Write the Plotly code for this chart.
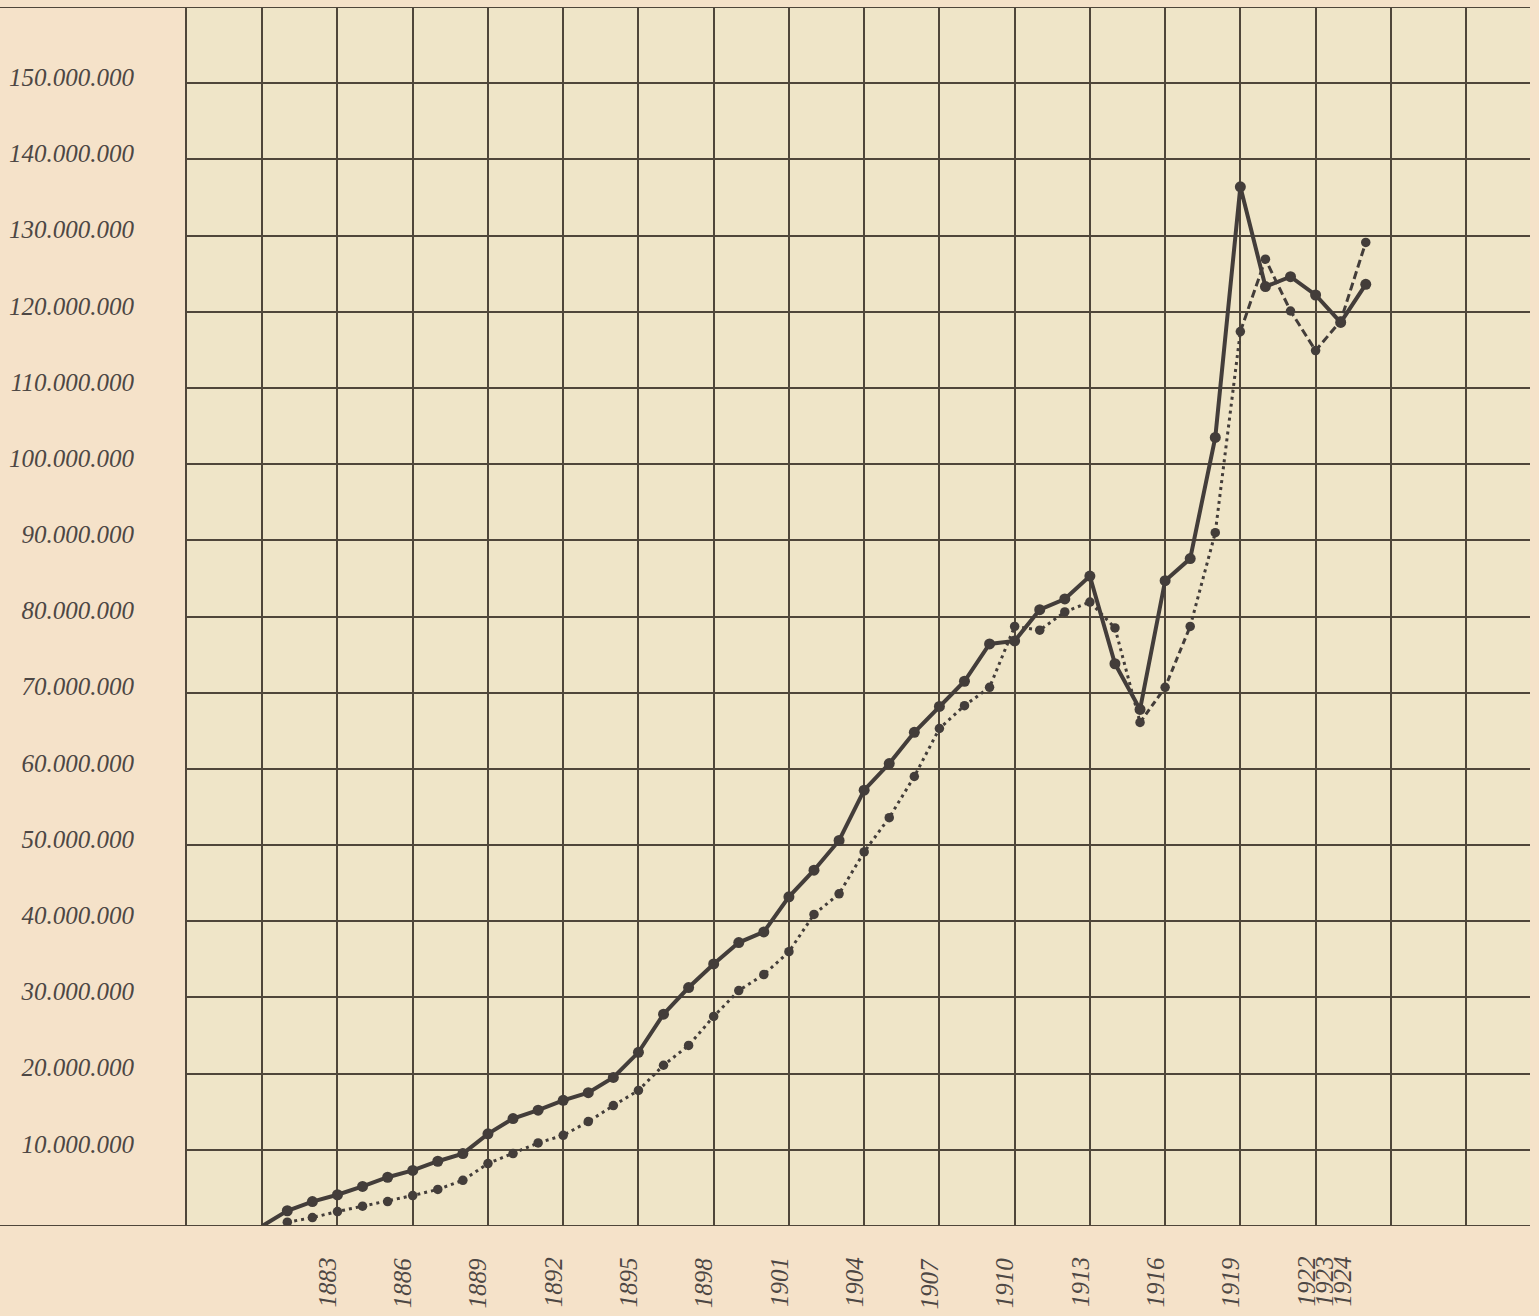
import plotly.graph_objects as go

# ---------------- data (values in millions) ----------------
years = list(range(1881, 1925))
series_solid = [2.0, 3.2, 4.1, 5.2, 6.4, 7.3, 8.5, 9.5, 12.1, 14.1,
                15.2, 16.5, 17.5, 19.5, 22.8, 27.8, 31.3, 34.4, 37.2, 38.6,
                43.2, 46.7, 50.6, 57.2, 60.7, 64.8, 68.2, 71.5, 76.4, 76.8,
                80.9, 82.3, 85.3, 73.8, 67.8, 84.7, 87.6, 103.5, 136.4, 123.3,
                124.6, 122.2, 118.6, 123.6]
series_dotted = [0.5, 1.1, 1.9, 2.6, 3.2, 4.0, 4.8, 6.0, 8.2, 9.5,
                 10.9, 11.9, 13.7, 15.8, 17.8, 21.1, 23.7, 27.5, 30.9, 33.0,
                 36.0, 40.9, 43.6, 49.1, 53.6, 59.0, 65.3, 68.3, 70.7, 78.7,
                 78.2, 80.6, 81.9, 78.5, 66.1, 70.7, 78.7, 91.0, 117.4, 126.9,
                 120.1, 114.9, 118.8, 129.1]
solid_start_year = 1880
solid_start_value = 0.0

y_tick_values = [10, 20, 30, 40, 50, 60, 70, 80, 90, 100, 110, 120, 130, 140, 150]
y_tick_labels = ["10.000.000", "20.000.000", "30.000.000", "40.000.000", "50.000.000",
                 "60.000.000", "70.000.000", "80.000.000", "90.000.000", "100.000.000",
                 "110.000.000", "120.000.000", "130.000.000", "140.000.000", "150.000.000"]
x_label_years = [1883, 1886, 1889, 1892, 1895, 1898, 1901, 1904, 1907, 1910,
                 1913, 1916, 1919, 1922]
x_crowded_labels = ["1923", "1924"]

# ---------------- styling ----------------
INK = "#433d3a"
GRID = "#4f463a"
PAPER = "#f5e2c9"
PLOT_BG = "#efe5c8"
FONT = dict(family="Liberation Serif, Times New Roman, serif", size=25, color="#4d4744", style="italic")

fig = go.Figure()

# dotted series, split into segments with changing line style
segments = [(1881, 1915, "3px,4px"), (1915, 1917, "6px,4px"),
            (1917, 1919, "3px,4px"), (1919, 1924, "8px,4px")]
for a, b, dash in segments:
    i0, i1 = years.index(a), years.index(b) + 1
    fig.add_trace(go.Scatter(
        x=years[i0:i1], y=series_dotted[i0:i1], mode="lines",
        line=dict(color=INK, width=3, dash=dash), hoverinfo="skip", showlegend=False))
fig.add_trace(go.Scatter(
    x=years, y=series_dotted, mode="markers",
    marker=dict(color=INK, size=9.5, line=dict(width=0)), showlegend=False))

# solid series, starting from zero
fig.add_trace(go.Scatter(
    x=[solid_start_year] + years, y=[solid_start_value] + series_solid,
    mode="lines", line=dict(color=INK, width=4), hoverinfo="skip", showlegend=False))
fig.add_trace(go.Scatter(
    x=years, y=series_solid, mode="markers",
    marker=dict(color=INK, size=11, line=dict(width=0)), showlegend=False))

L, R, T, B = 187, 9, 7, 90
W, H = 1539, 1316
px_per_year = 25.08
x0 = 1877
x1 = x0 + (W - L - R) / px_per_year

fig.update_layout(
    width=W, height=H,
    margin=dict(l=L, r=R, t=T, b=B, pad=0),
    paper_bgcolor=PAPER, plot_bgcolor=PLOT_BG,
    font=FONT,
    showlegend=False,
)
fig.update_xaxes(
    range=[x0, x1], tick0=x0, dtick=3, showgrid=True, gridcolor=GRID, gridwidth=2,
    showticklabels=False, ticks="", zeroline=False, showline=False,
)
fig.update_yaxes(
    range=[0, 160], tickmode="array", tickvals=y_tick_values, ticktext=y_tick_labels,
    showgrid=True, gridcolor=GRID, gridwidth=2, ticks="", zeroline=False,
    showline=True, linecolor=GRID, linewidth=2,
    ticklabelstandoff=46, ticklabelshift=-6, tickfont=FONT,
)

# frame lines at top and bottom, running across the whole page width
for yv in (0, 160):
    fig.add_shape(type="line", xref="paper", yref="y", x0=-L / (W - L - R), x1=1,
                  y0=yv, y1=yv, line=dict(color=GRID, width=2))

# year labels below the chart (rotated)
for yr in x_label_years:
    fig.add_annotation(x=yr, y=0, xref="x", yref="y", text=str(yr), showarrow=False,
                       textangle=-90, xanchor="center", yanchor="top",
                       xshift=-10, yshift=-29, font=FONT)
for k, lab in enumerate(x_crowded_labels, start=1):
    fig.add_annotation(x=x_label_years[-1], y=0, xref="x", yref="y", text=lab, showarrow=False,
                       textangle=-90, xanchor="center", yanchor="top",
                       xshift=-10 + 18 * k, yshift=-29, font=FONT)

fig.write_html("out.html", config={"displayModeBar": False},
               post_script="document.body.style.margin='0px';")
